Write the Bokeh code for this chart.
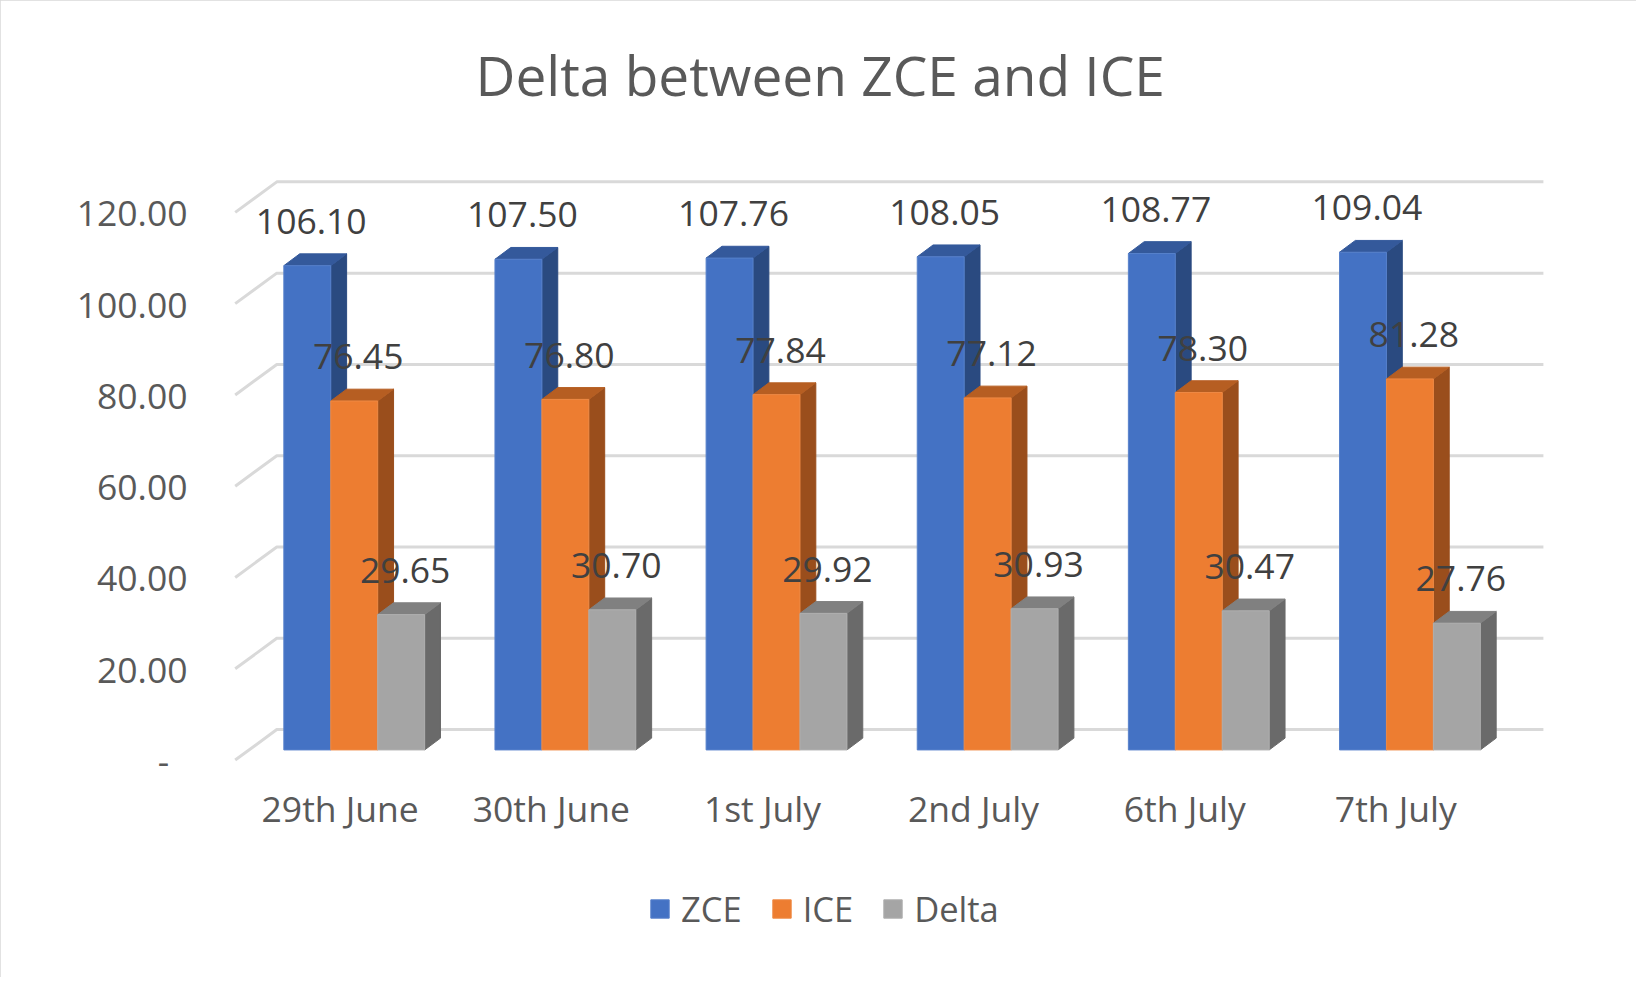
from bokeh.plotting import figure
from bokeh.models import Range1d, FixedTicker, Legend, LegendItem, ColumnDataSource
from bokeh.embed import file_html
from bokeh.resources import INLINE
from bokeh.core.properties import value

# ---------------- data ----------------
CATEGORIES = ["29th June", "30th June", "1st July", "2nd July", "6th July", "7th July"]
SERIES = ["ZCE", "ICE", "Delta"]
ZCE = [106.10, 107.50, 107.76, 108.05, 108.77, 109.04]
ICE = [76.45, 76.80, 77.84, 77.12, 78.30, 81.28]
DELTA = [29.65, 30.70, 29.92, 30.93, 30.47, 27.76]
Y_TICKS = [0, 20, 40, 60, 80, 100, 120]
Y_TICK_LABELS = ["-\u00a0\u00a0", "20.00", "40.00", "60.00", "80.00", "100.00", "120.00"]
TITLE = "Delta between ZCE and ICE"

# ---------------- style / geometry ----------------
FRONT = ["#4472C4", "#ED7D31", "#A5A5A5"]
EDGE = ["#5781CB", "#EF8A45", "#AFAFAF"]
TOPC = ["#34599B", "#B65E22", "#808080"]
SIDE = ["#2A4A80", "#9A4E1C", "#6A6A6A"]
FONT = "Open Sans"
TXT = "#595959"
LBL = "#404040"
GRID = "#D9D9D9"

W, H = 1636, 977
SX, SY = W / 1652.0, H / 993.0     # reference-layout px -> figure px
FRAME_L, FRAME_R = 198, 1547
FRAME_T, FRAME_B = 118, 935
CAT_STEP = 213.2          # reference px per category
CAT0 = 343.0              # reference px of first category centre (front plane)
Y0 = 772.0                # reference px of value 0 (front plane)
PPU = 4.639               # reference px per value unit


def ux(px):
    return px / CAT_STEP


def uy(px):
    return px / PPU


BAR_W = ux(47.4)
BAR_DX, BAR_DY = ux(14.2), uy(10.3)      # bar front plane offset from label plane
D_DX, D_DY = ux(16), uy(12)              # bar depth
WALL_DX, WALL_DY = ux(42), uy(31)        # back wall offset
GL_FRONT_X = ux(237 - CAT0)
GL_RIGHT_X = ux(1558 - CAT0)

x_range = Range1d(ux(FRAME_L / SX - CAT0), ux(FRAME_R / SX - CAT0))
y_range = Range1d(uy(Y0 - FRAME_B / SY), uy(Y0 - FRAME_T / SY))

p = figure(width=W, height=H, x_range=x_range, y_range=y_range,
           output_backend="svg", toolbar_location=None,
           min_border_left=FRAME_L, min_border_right=W - FRAME_R,
           min_border_top=FRAME_T, min_border_bottom=H - FRAME_B)
p.outline_line_color = None
p.grid.visible = False
p.background_fill_color = "white"
p.border_fill_color = "white"
p.styles = {"outline": "3px solid #D9D9D9", "outline-offset": "-3px"}

# title
p.title.text = TITLE
p.title.align = "left"
p.title.offset = 277
p.title.standoff = 14
p.title.text_font = FONT
p.title.text_font_size = "55px"
p.title.text_font_style = "normal"
p.title.text_color = TXT

# y axis
ya = p.yaxis[0]
ya.ticker = FixedTicker(ticks=Y_TICKS)
ya.major_label_overrides = dict(zip(Y_TICKS, Y_TICK_LABELS))
ya.major_tick_in = 0
ya.major_tick_out = 0
ya.minor_tick_in = 0
ya.minor_tick_out = 0
ya.axis_line_color = None
ya.major_label_standoff = 11
ya.major_label_text_font = FONT
ya.major_label_text_font_size = "35.5px"
ya.major_label_text_color = TXT

# x axis (labels pulled up above the legend strip)
xa = p.xaxis[0]
xa.ticker = FixedTicker(ticks=list(range(len(CATEGORIES))))
xa.major_label_overrides = {i: c for i, c in enumerate(CATEGORIES)}
xa.major_tick_in = 0
xa.major_tick_out = 0
xa.minor_tick_in = 0
xa.minor_tick_out = 0
xa.axis_line_color = None
xa.major_label_standoff = -152
xa.major_label_text_font = FONT
xa.major_label_text_font_size = "35.5px"
xa.major_label_text_color = TXT

# gridlines (front diagonal + back wall)
gxs, gys = [], []
for t in Y_TICKS:
    gxs.append([GL_FRONT_X, GL_FRONT_X + WALL_DX, GL_RIGHT_X])
    gys.append([t, t + WALL_DY, t + WALL_DY])
p.multi_line(xs=gxs, ys=gys, line_color=GRID, line_width=3)

# bars
front_renderers = []
all_series = [ZCE, ICE, DELTA]
for j, vals in enumerate(all_series):
    lefts = [i + BAR_DX + (j - 1.5) * BAR_W for i in range(len(vals))]
    rights = [l + BAR_W for l in lefts]
    bottoms = [BAR_DY] * len(vals)
    tops = [v + BAR_DY for v in vals]
    side_xs = [[r, r + D_DX, r + D_DX, r] for r in rights]
    side_ys = [[b, b + D_DY, t + D_DY, t] for b, t in zip(bottoms, tops)]
    top_xs = [[l, r, r + D_DX, l + D_DX] for l, r in zip(lefts, rights)]
    top_ys = [[t, t, t + D_DY, t + D_DY] for t in tops]
    p.patches(xs=side_xs, ys=side_ys, fill_color=SIDE[j], line_color=SIDE[j], line_width=1)
    p.patches(xs=top_xs, ys=top_ys, fill_color=TOPC[j], line_color=TOPC[j], line_width=1)
    src = ColumnDataSource(dict(left=lefts, right=rights, bottom=bottoms, top=tops))
    r = p.quad(left="left", right="right", bottom="bottom", top="top", source=src,
               fill_color=FRONT[j], line_color=EDGE[j], line_width=1)
    front_renderers.append(r)

# data labels
for j, vals in enumerate(all_series):
    xs = [i + BAR_DX + (j - 1.0) * BAR_W + ux(4) for i in range(len(vals))]
    ys = [v + BAR_DY + uy(45) for v in vals]
    txt = [f"{v:.2f}" for v in vals]
    p.text(x=xs, y=ys, text=txt, text_font=value(FONT), text_font_size="35.5px",
           text_color=LBL, text_align="center", text_baseline="middle")

# legend (inside the frame, below the category labels)
legend = Legend(items=[LegendItem(label=s, renderers=[r]) for s, r in zip(SERIES, front_renderers)],
                orientation="horizontal", location=(450, 3), margin=0, padding=0,
                spacing=28, label_standoff=10, glyph_width=23, glyph_height=23,
                label_text_font=FONT, label_text_font_size="34.5px", label_text_color=TXT,
                border_line_color=None, background_fill_alpha=0)
p.add_layout(legend)

open("out.html", "w").write(file_html(p, INLINE))
